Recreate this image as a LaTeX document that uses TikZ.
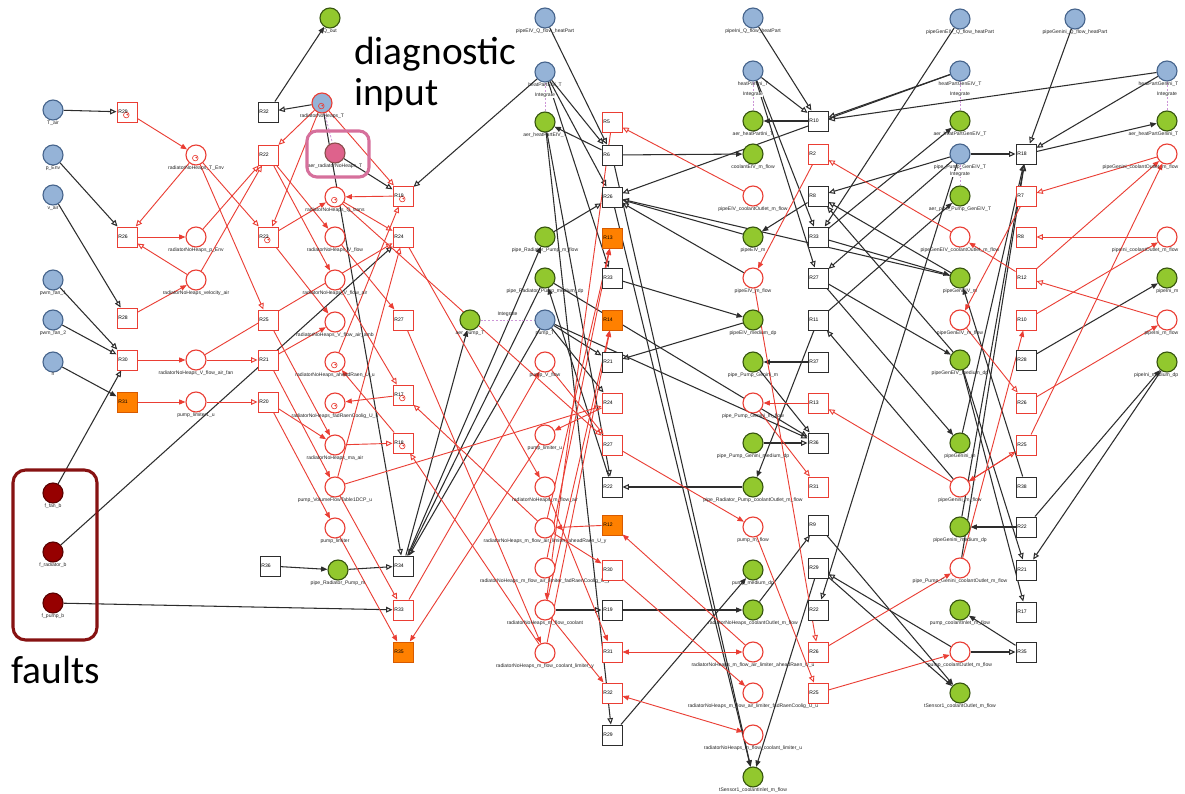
\documentclass[tikz,border=0pt]{standalone}
\usepackage{fontspec}
\setmainfont{Liberation Sans}
\newfontfamily\notefont{Carlito}
\usetikzlibrary{arrows.meta}
\pgfdeclarelayer{background}
\pgfsetlayers{background,main}

\definecolor{placeblue}{RGB}{149,179,215}
\definecolor{blueedge}{RGB}{70,100,140}
\definecolor{placegreen}{RGB}{146,200,46}
\definecolor{greenedge}{RGB}{55,85,15}
\definecolor{faultfill}{RGB}{150,0,0}
\definecolor{faultedge}{RGB}{90,0,0}
\definecolor{netred}{RGB}{234,62,52}
\definecolor{firedorange}{RGB}{255,128,0}
\definecolor{orangeedge}{RGB}{215,90,0}
\definecolor{diagpink}{RGB}{214,112,156}
\definecolor{diagfill}{RGB}{222,98,140}
\definecolor{boxred}{RGB}{135,18,18}
\definecolor{wire}{RGB}{45,45,45}
\definecolor{integ}{RGB}{205,150,215}

\tikzset{
  lbl/.style={font=\fontsize{3.6}{4}\selectfont, inner sep=0.3pt, text=black!85},
  rlbl/.style={lbl, anchor=north east, xshift=0.3cm},
  place/.style={circle, minimum size=0.5cm, inner sep=0pt, line width=0.8pt},
  pblue/.style={place, fill=placeblue, draw=blueedge},
  pgreen/.style={place, fill=placegreen, draw=greenedge},
  pred/.style={place, fill=white, draw=netred},
  pfault/.style={place, fill=faultfill, draw=faultedge},
  pdiag/.style={place, fill=diagfill, draw=faultedge!70},
  pbluered/.style={place, fill=placeblue, draw=netred},
  trans/.style={rectangle, minimum size=0.5cm, inner sep=1pt, text width=0.5cm-2pt,
    align=left, line width=0.7pt, font=\fontsize{3.6}{4}\selectfont},
  tblack/.style={trans, fill=white, draw=wire},
  tred/.style={trans, fill=white, draw=netred},
  torange/.style={trans, fill=firedorange, draw=orangeedge},
  icon/.style={path picture={
    \draw[netred, line width=0.45pt] ([xshift=-0.5pt,yshift=-2.2pt]path picture bounding box.center) circle (2pt);
    \fill[netred] ([xshift=0.2pt,yshift=-1.8pt]path picture bounding box.center) circle (0.7pt);}},
  ba/.style={draw=wire, line width=0.75pt, -{Triangle[open, length=4.5pt, width=4pt]}},
  bf/.style={draw=wire, line width=0.75pt, -{Triangle[length=4.5pt, width=3.6pt]}},
  ra/.style={draw=netred, line width=0.65pt, -{Triangle[open, length=4.5pt, width=4pt]}},
  rf/.style={draw=netred, line width=0.65pt, -{Triangle[length=4.5pt, width=3.6pt]}},
  rfb/.style={draw=netred, line width=0.65pt, {Triangle[length=4.5pt, width=3.6pt]}-{Triangle[length=4.5pt, width=3.6pt]}},
  integrate/.style={draw=integ, line width=0.6pt, dash pattern=on 1.5pt off 1.2pt},
  frame/.style={rounded corners=9pt, line width=2.2pt},
  note/.style={font=\notefont\fontsize{28}{32}\selectfont, inner sep=0pt, text=black}
}

\newcommand{\PNplace}[4]{\node[#1, label={[lbl]below:#4}] (#2) at (#3) {};}
\newcommand{\PNedgeplace}[4]{\node[#1, label={[rlbl]below:#4}] (#2) at (#3) {};}
\newcommand{\PNtrans}[4]{\node[#1] (#2) at (#3) {#4};}

\begin{document}
\begin{tikzpicture}[x=0.025cm, y=-0.025cm]
\useasboundingbox (0,0) rectangle (1185,794);

% ---------- inputs and faults ----------
\PNplace{pblue}{Tair}{53,110}{T\_air}
\PNplace{pblue}{pEnv}{53,155}{p\_Env}
\PNplace{pblue}{vair}{53,195}{v\_air}
\PNplace{pblue}{pwmA}{53,280}{pwm\_fan\_1}
\PNplace{pblue}{pwmB}{53,320}{pwm\_fan\_2}
\PNplace{pblue}{nsp}{53,362}{n}
\PNplace{pfault}{ffan}{53,493}{f\_fan\_b}
\PNplace{pfault}{frad}{53,552}{f\_radiator\_b}
\PNplace{pfault}{fpump}{53,603}{f\_pump\_b}

% ---------- radiator places ----------
\PNplace{pred,icon}{rTEnv}{196,155}{radiatorNoHeaps\_T\_Env}
\PNplace{pred}{rpEnv}{196,237}{radiatorNoHeaps\_p\_Env}
\PNplace{pred}{rvel}{196,280}{radiatorNoHeaps\_velocity\_air}
\PNplace{pred}{rVfan}{196,360}{radiatorNoHeaps\_V\_flow\_air\_fan}
\PNplace{pred}{plimA}{196,402}{pump\_limiter1\_u}

\PNplace{pgreen}{qout}{330,18}{Q\_out}
\PNplace{pbluered,icon}{rT}{322,103}{radiatorNoHeaps\_T}
\PNplace{pdiag}{aerRT}{335,153}{aer\_radiatorNoHeaps\_T}
\PNplace{pred,icon}{rQ}{335,197}{radiatorNoHeaps\_Q\_trans}
\PNplace{pred}{rV}{335,237}{radiatorNoHeaps\_V\_flow}
\PNplace{pred}{rVair}{335,280}{radiatorNoHeaps\_V\_flow\_air}
\PNplace{pred}{rVam}{335,322}{radiatorNoHeaps\_V\_flow\_air\_amb}
\PNplace{pred,icon}{rAhead}{335,362}{radiatorNoHeaps\_aheadRaen\_U\_u}
\PNplace{pred,icon}{rFad}{335,403}{radiatorNoHeaps\_fadRaenCoolig\_U\_u}
\PNplace{pred}{rMa}{335,445}{radiatorNoHeaps\_ma\_air}
\PNplace{pred}{pVol}{335,487}{pump\_VolumeFlowTable1DCP\_u}
\PNplace{pred}{plim}{335,528}{pump\_limiter}
\PNplace{pgreen}{pRPm}{338,570}{pipe\_Radiator\_Pump\_m}

\PNplace{pgreen}{aerPT}{470,320}{aer\_pump\_T}

% ---------- pipe EIV / pump places ----------
\PNplace{pblue}{eQ}{545,18}{pipeEIV\_Q\_flow\_heatPart}
\PNplace{pblue}{hpET}{545,72}{heatPartEIV\_T}
\PNplace{pgreen}{aerHET}{545,122}{aer\_heatPartEIV\_T}
\PNplace{pgreen}{pRPmf}{545,237}{pipe\_Radiator\_Pump\_m\_flow}
\PNplace{pgreen}{pRPdp}{545,278}{pipe\_Radiator\_Pump\_medium\_dp}
\PNplace{pblue}{pT}{545,320}{pump\_T}
\PNplace{pred}{pVf}{545,362}{pump\_V\_flow}
\PNplace{pred}{plimB}{545,435}{pump\_limiter\_u}
\PNplace{pred}{rMfa}{545,487}{radiatorNoHeaps\_m\_flow\_air}
\PNplace{pred}{rMfaA}{545,528}{radiatorNoHeaps\_m\_flow\_air\_limiter\_aheadRaen\_U\_y}
\PNplace{pred}{rMfaF}{545,568}{radiatorNoHeaps\_m\_flow\_air\_limiter\_fadRaenCoolig\_U\_y}
\PNplace{pred}{rMfc}{545,610}{radiatorNoHeaps\_m\_flow\_coolant}
\PNplace{pred}{rMfcL}{545,653}{radiatorNoHeaps\_m\_flow\_coolant\_limiter\_y}

\PNplace{pblue}{gQ}{753,18}{pipeIni\_Q\_flow\_heatPart}
\PNplace{pblue}{hpGT}{753,71}{heatPartIni\_T}
\PNplace{pgreen}{aerHGT}{753,121}{aer\_heatPartIni\_T}
\PNplace{pgreen}{cEm}{753,154}{coolantEIV\_m\_flow}
\PNplace{pred}{eOut}{753,196}{pipeEIV\_coolantOutlet\_m\_flow}
\PNplace{pgreen}{eM}{753,237}{pipeEIV\_m}
\PNplace{pred}{eMf}{753,278}{pipeEIV\_m\_flow}
\PNplace{pgreen}{eDp}{753,320}{pipeEIV\_medium\_dp}
\PNplace{pgreen}{pPGm}{753,362}{pipe\_Pump\_Genini\_m}
\PNplace{pred}{pPGmf}{753,403}{pipe\_Pump\_Genini\_m\_flow}
\PNplace{pgreen}{pPGdp}{753,443}{pipe\_Pump\_Genini\_medium\_dp}
\PNplace{pgreen}{pRPout}{753,487}{pipe\_Radiator\_Pump\_coolantOutlet\_m\_flow}
\PNplace{pred}{pMf}{753,527}{pump\_m\_flow}
\PNplace{pgreen}{pDp}{753,570}{pump\_medium\_dp}
\PNplace{pgreen}{rOut}{753,610}{radiatorNoHeaps\_coolantOutlet\_m\_flow}
\PNplace{pred}{rMfaA2}{753,652}{radiatorNoHeaps\_m\_flow\_air\_limiter\_aheadRaen\_U\_u}
\PNplace{pred}{rMfaF2}{753,693}{radiatorNoHeaps\_m\_flow\_air\_limiter\_fadRaenCoolig\_U\_u}
\PNplace{pred}{rMfcL2}{753,735}{radiatorNoHeaps\_m\_flow\_coolant\_limiter\_u}
\PNplace{pgreen}{tsIn}{753,777}{tSensor1\_coolantInlet\_m\_flow}

% ---------- generator pipes ----------
\PNplace{pblue}{geQ}{960,19}{pipeGenEIV\_Q\_flow\_heatPart}
\PNplace{pblue}{hpGET}{960,71}{heatPartGenEIV\_T}
\PNplace{pgreen}{aerHGET}{960,121}{aer\_heatPartGenEIV\_T}
\PNplace{pblue}{pPGET}{960,154}{pipe\_Pump\_GenEIV\_T}
\PNplace{pgreen}{aerPPGET}{960,196}{aer\_pipe\_Pump\_GenEIV\_T}
\PNplace{pred}{geOut}{960,237}{pipeGenEIV\_coolantOutlet\_m\_flow}
\PNplace{pgreen}{geM}{960,278}{pipeGenEIV\_m}
\PNplace{pred}{geMf}{960,320}{pipeGenEIV\_m\_flow}
\PNplace{pgreen}{geDp}{960,360}{pipeGenEIV\_medium\_dp}
\PNplace{pgreen}{giM}{960,443}{pipeGenini\_m}
\PNplace{pred}{giMf}{960,487}{pipeGenini\_m\_flow}
\PNplace{pgreen}{giDp}{960,527}{pipeGenini\_medium\_dp}
\PNplace{pred}{pPGiOut}{960,568}{pipe\_Pump\_Genini\_coolantOutlet\_m\_flow}
\PNplace{pgreen}{pIn}{960,610}{pump\_coolantInlet\_m\_flow}
\PNplace{pred}{pOut}{960,652}{pump\_coolantOutlet\_m\_flow}
\PNplace{pgreen}{tsOut}{960,693}{tSensor1\_coolantOutlet\_m\_flow}

\PNplace{pblue}{giQ}{1075,19}{pipeGenini\_Q\_flow\_heatPart}
\PNedgeplace{pblue}{hpGiT}{1167,71}{heatPartGenini\_T}
\PNedgeplace{pgreen}{aerHGiT}{1167,121}{aer\_heatPartGenini\_T}
\PNedgeplace{pred}{giOut}{1167,154}{pipeGenini\_coolantOutlet\_m\_flow}
\PNedgeplace{pred}{iOut}{1167,237}{pipeIni\_coolantOutlet\_m\_flow}
\PNedgeplace{pgreen}{iM}{1167,278}{pipeIni\_m}
\PNedgeplace{pred}{iMf}{1167,320}{pipeIni\_m\_flow}
\PNedgeplace{pgreen}{iDp}{1167,362}{pipeIni\_medium\_dp}

% ---------- transitions ----------
\PNtrans{tred,icon}{t29}{127,112}{R29}
\PNtrans{tred}{t26}{127,237}{R26}
\PNtrans{tred}{t28}{127,318}{R28}
\PNtrans{tred}{t30}{127,360}{R30}
\PNtrans{torange}{t31}{127,402}{R31}

\PNtrans{tblack}{t32}{268,112}{R32}
\PNtrans{tred}{t22}{268,155}{R22}
\PNtrans{tred,icon}{t23}{268,237}{R23}
\PNtrans{tred}{t25}{268,320}{R25}
\PNtrans{tred}{t21}{268,360}{R21}
\PNtrans{tred}{t20}{268,402}{R20}
\PNtrans{tblack}{t36}{270,566}{R36}

\PNtrans{tred,icon}{t19}{403,196}{R19}
\PNtrans{tred}{t24}{403,237}{R24}
\PNtrans{tred}{t27}{403,320}{R27}
\PNtrans{tred,icon}{t17}{403,395}{R17}
\PNtrans{tred,icon}{t18}{403,443}{R18}
\PNtrans{tblack}{t34}{403,566}{R34}
\PNtrans{tred}{t33}{403,610}{R33}
\PNtrans{torange}{t35}{403,652}{R35}

\PNtrans{tred}{s5}{612,122}{R5}
\PNtrans{tblack}{s6}{612,155}{R6}
\PNtrans{tblack}{s26}{612,197}{R26}
\PNtrans{torange}{s13}{612,238}{R13}
\PNtrans{tblack}{s33}{612,278}{R33}
\PNtrans{torange}{s14}{612,320}{R14}
\PNtrans{tblack}{s21}{612,362}{R21}
\PNtrans{tred}{s24}{612,403}{R24}
\PNtrans{tred}{s27}{612,445}{R27}
\PNtrans{tblack}{s22}{612,487}{R22}
\PNtrans{torange}{s12}{612,525}{R12}
\PNtrans{tred}{s30}{612,570}{R30}
\PNtrans{tblack}{s19}{612,610}{R19}
\PNtrans{tred}{s31}{612,652}{R31}
\PNtrans{tred}{s32}{612,693}{R32}
\PNtrans{tblack}{s29}{612,735}{R29}

\PNtrans{tblack}{u10}{818,121}{R10}
\PNtrans{tred}{u2}{818,154}{R2}
\PNtrans{tblack}{u8}{818,196}{R8}
\PNtrans{tblack}{u33}{818,237}{R33}
\PNtrans{tblack}{u27}{818,278}{R27}
\PNtrans{tblack}{u11}{818,320}{R11}
\PNtrans{tblack}{u37}{818,362}{R37}
\PNtrans{tred}{u13}{818,403}{R13}
\PNtrans{tblack}{u36}{818,443}{R36}
\PNtrans{tred}{u31}{818,487}{R31}
\PNtrans{tblack}{u9}{818,525}{R9}
\PNtrans{tblack}{u29}{818,568}{R29}
\PNtrans{tblack}{u22}{818,610}{R22}
\PNtrans{tred}{u26}{818,652}{R26}
\PNtrans{tred}{u25}{818,693}{R25}

\PNtrans{tblack}{v18}{1026,154}{R18}
\PNtrans{tred}{v7}{1026,196}{R7}
\PNtrans{tred}{v8}{1026,237}{R8}
\PNtrans{tred}{v12}{1026,278}{R12}
\PNtrans{tred}{v10}{1026,320}{R10}
\PNtrans{tblack}{v28}{1026,360}{R28}
\PNtrans{tred}{v26}{1026,403}{R26}
\PNtrans{tred}{v25}{1026,445}{R25}
\PNtrans{tblack}{v38}{1026,487}{R38}
\PNtrans{tblack}{v22}{1026,527}{R22}
\PNtrans{tblack}{v21}{1026,570}{R21}
\PNtrans{tblack}{v17}{1026,612}{R17}
\PNtrans{tblack}{v35}{1026,652}{R35}

% ---------- annotations ----------
\draw[boxred, frame] (13,470) rectangle (97,640);
\draw[diagpink, frame, rounded corners=7pt] (307,131) rectangle (369,177);
\node[note, anchor=base west] (diagtext) at (354,65) {diagnostic};
\node[note, anchor=base west] (inputtext) at (354,106) {input};
\node[note, anchor=base west] (faulttext) at (11,683) {faults};

% ---------- arcs (kept under the nodes) ----------
\begin{pgfonlayer}{background}
\fill[white] (0,0) rectangle (1185,794);
\foreach \a/\b in {Tair/t29, pEnv/t26, vair/t28, pwmA/t30, pwmB/t30, ffan/t30,
  frad/t24, fpump/t33, rT/t32, aerRT/t19, hpET/t19, rT/t34, pRPm/t34, pT/t34,
  pRPdp/t34, eQ/s6, hpET/s6, hpET/s26, pRPmf/s26, eM/s26, eMf/s26, hpGET/s26,
  geM/s26, hpET/s33, pT/s21, pT/s24, pT/u36, pPGdp/u36, pPGm/u36, pRPdp/u36,
  pRPout/s22, aerHET/s22, eDp/s21, rMfc/s19, aerHET/s29, rOut/u9, pOut/u29,
  pPGET/u22, giMf/u11, hpGT/u10, gQ/u10, hpGET/u10, hpGiT/u10, hpGT/u33,
  geQ/u33, hpGT/u27, pPGET/u27, geM/u8, geDp/u8, pPGET/u8, pPGET/v18, giQ/v18,
  hpGiT/v18, giM/v18, giDp/v18, pPGiOut/v18, iDp/v21, geDp/v21, geDp/v17,
  pOut/v35}
  \draw[ba] (\a) -- (\b);

\foreach \a/\b in {nsp/t31, t32/qout, t36/pRPm, t34/aerPT, t34/pRPmf, s22/pRPdp,
  s6/aerHET, s6/cEm, s6/tsIn, s26/tsIn, s33/eDp, s19/rOut, s29/pDp, u29/tsIn,
  u9/tsOut, u29/tsOut, u10/aerHGT, u8/eM, u37/pPGm, u11/pRPout, u11/aerPPGET,
  u33/aerHGET, u33/geM, u27/geDp, u27/giM, v18/aerHGiT, v28/iM, v38/geM,
  v22/giDp, v22/iDp, v35/pIn}
  \draw[bf] (\a) -- (\b);

\foreach \a/\b in {t29/rTEnv, t26/rpEnv, t28/rvel, t30/rVfan, t31/plimA, t22/rV,
  t22/rVair, t23/rQ, t23/rVam, t25/rMa, t21/rVam, t21/pVol, t20/plim, t20/rMa,
  t19/rQ, t17/rFad, t18/rAhead, t24/rMfa, rV/t27, t27/rMfcL, t33/pVf, plim/t35,
  plimB/t35, s5/rMfc, s24/plimB, s27/pMf, s12/rMfaA, rMfaA/s13, rMfaF/s13,
  rMfc/s14, rMfcL/s14, s30/rMfaF2, rMfaA/s30, rMfa/s31, rMfaA2/s12, rMfc/s32,
  u2/eMf, u13/pPGmf, u26/pPGiOut, u25/pOut, pPGiOut/v10, v25/giOut, v7/geMf,
  v12/geOut, v12/giOut, v10/iOut, v26/iMf, v25/giMf}
  \draw[rf] (\a) -- (\b);

\foreach \a/\b in {rTEnv/t26, rvel/t26, rVfan/t21, plimA/t20, rTEnv/t23,
  rTEnv/t25, rpEnv/t22, rvel/t22, rT/t19, rT/t22, rT/t23, rAhead/t19, rQ/t24,
  pVol/t24, rVfan/t24, rMa/t18, rVair/t17, rMfaA/t17, rMfcL/t18, pVol/t33,
  rQ/s27, pVf/s27, pVol/s24, eOut/s5, geOut/u2, eMf/u26, pPGmf/u31, giMf/u13,
  pMf/u25, giOut/v7, iOut/v8, iMf/v12, geMf/v26, giMf/v25}
  \draw[ra] (\a) -- (\b);

\foreach \a/\b in {s31/rMfaA2, s32/rMfcL2}
  \draw[rfb] (\a) -- (\b);

% integration links between a state and its estimate
\draw[integrate] (rT) -- (aerRT);
\foreach \a/\b in {hpET/aerHET, hpGT/aerHGT, hpGET/aerHGET, pPGET/aerPPGET, hpGiT/aerHGiT}
  \draw[integrate] (\a) -- (\b) node[lbl, pos=0.45, fill=white] {Integrate};
\draw[integrate] (aerPT) -- (pT) node[lbl, midway, above=1.5pt] {Integrate};
\end{pgfonlayer}
\end{tikzpicture}
\end{document}
